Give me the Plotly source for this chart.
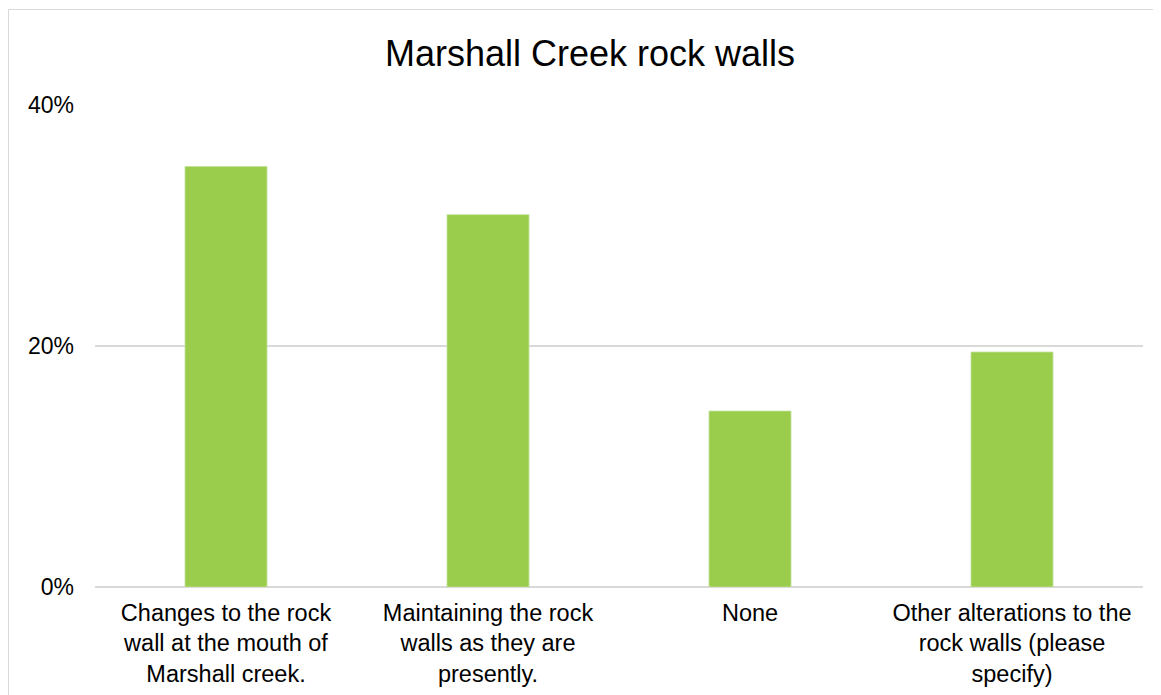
import plotly.graph_objects as go

categories = [
    "Changes to the rock<br>wall at the mouth of<br>Marshall creek.",
    "Maintaining the rock<br>walls as they are<br>presently.",
    "None",
    "Other alterations to the<br>rock walls (please<br>specify)",
]
values = [34.9, 30.9, 14.6, 19.5]
y_ticks = [0, 20, 40]
y_tick_labels = ["0%", "20%", "40%"]

W, H = 1161, 695
OFF = 8  # page body margin offset
ML, MR, MT, MB = 95 - OFF, 18 + OFF, 105 - OFF, 108 + OFF
FONT = "Liberation Sans, Arial, sans-serif"

fig = go.Figure(
    go.Bar(
        x=categories,
        y=values,
        width=0.313,
        marker=dict(color="#9BCD4D", line=dict(color="#C3E29A", width=0.8)),
        hoverinfo="x+y",
    )
)

pw = W - ML - MR
ph = H - MT - MB
fig.add_shape(
    type="rect", xref="paper", yref="paper",
    x0=(0.5 - ML) / pw, x1=(W + 20 - ML) / pw,
    y0=(H - MB - (H + 20)) / ph, y1=(H - MB - 1.5) / ph,
    line=dict(color="#D9D9D9", width=1), fillcolor="rgba(0,0,0,0)", layer="below",
)

fig.update_layout(
    width=W, height=H,
    margin=dict(l=ML, r=MR, t=MT, b=MB, pad=0),
    paper_bgcolor="white", plot_bgcolor="white",
    showlegend=False,
    bargap=0.687,
    font=dict(family=FONT, color="#000000"),
    title=dict(
        text="Marshall Creek rock walls",
        font=dict(family=FONT, size=36, color="#000000"),
        x=(590 - OFF) / W, xanchor="center", xref="container",
        y=1 - (53 - OFF) / H, yanchor="middle", yref="container",
    ),
    xaxis=dict(
        showgrid=False, showline=False, zeroline=False,
        ticks="", tickfont=dict(size=23.5, color="#000000"),
        ticklabelstandoff=9,
    ),
    yaxis=dict(
        range=[0, 40], tickvals=y_ticks, ticktext=y_tick_labels,
        showgrid=True, gridcolor="#D9D9D9", gridwidth=1.5,
        zeroline=True, zerolinecolor="#D9D9D9", zerolinewidth=1.5,
        showline=False, ticks="",
        tickfont=dict(size=23, color="#000000"),
        ticklabelstandoff=20,
    ),
)

fig.write_html("out.html")
